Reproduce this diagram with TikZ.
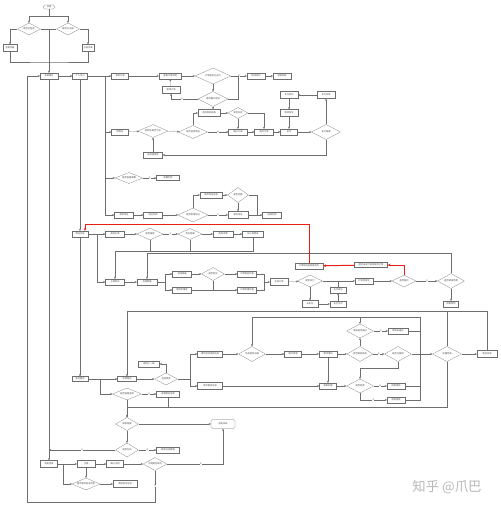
\documentclass[tikz,border=0pt]{standalone}
\usepackage{fontspec}
\newfontfamily\cjk{Noto Sans CJK SC}
\usetikzlibrary{arrows.meta, shapes.geometric, positioning, calc}
\definecolor{lnclr}{RGB}{110,110,110}
\definecolor{redline}{RGB}{235,30,20}
\tikzset{
  bx/.style 2 args={draw=lnclr, line width=0.3pt, inner sep=0pt, minimum width=#1*0.5mm, minimum height=#2*0.5mm, font=\cjk\fontsize{3.2}{3.2}\selectfont, text=black!70},
  dia/.style 2 args={diamond, aspect=2, draw=lnclr, line width=0.3pt, inner sep=0pt, minimum width=#1*0.5mm, minimum height=#2*0.5mm, font=\cjk\fontsize{3.2}{3.2}\selectfont, text=black!70},
  term/.style 2 args={bx={#1}{#2}, rounded corners=0.9mm},
  ln/.style={draw=lnclr, line width=0.3pt},
  arr/.style={ln, -{Stealth[length=1.1mm, width=0.9mm]}},
  redarr/.style={draw=redline, line width=1.4pt, -{Stealth[length=1.5mm, width=1.3mm]}},
  lab/.style={font=\cjk\fontsize{2.5}{2.5}\selectfont, text=black!60, fill=white, inner sep=0.2pt}
}
\begin{document}
\begin{tikzpicture}[x=0.05cm, y=-0.05cm]
        \fill[white] (0,0) rectangle (500,506);
        \useasboundingbox (0,0) rectangle (500,506);

        % top
        \node[term={12}{4}] (start) at (49,7) {开始};
        \node[dia={23}{12}] (dL) at (29,29) {是否已登录};
        \node[dia={23}{12}] (dR) at (68,29) {是否已注册};
        \node[bx={14}{7}] (bL) at (10,48) {登录页面};
        \node[bx={12}{7}] (bR) at (88,48) {注册页面};
        \node[bx={18}{6}] (home) at (49,76) {系统首页};
        \node[bx={15}{6}] (mine) at (80,76) {个人中心};
        \node[bx={17}{6}] (order) at (120,76) {我的订单};
        \node[bx={22}{6}] (odetail) at (170,76) {查看订单详情};
        \node[bx={18}{7}] (omodify) at (171,90) {修改订单};
        \node[dia={36}{16}] (dpaid) at (213,76) {订单是否已支付};
        \node[dia={30}{15}] (dcancel) at (213,99) {是否确认取消};
        \node[bx={18}{6}] (cancelok) at (256,76) {取消成功};
        \node[bx={18}{6}] (refund) at (282,76) {退款到账};

        \node[bx={17}{6}] (cart) at (120,132) {购物车};
        \node[dia={30}{13}] (dempty) at (153,131) {购物车是否为空};
        \node[bx={19}{6}] (addgoods) at (153,155) {去添加商品};
        \node[dia={29}{13}] (dselect) at (193,132) {是否选择商品};
        \node[bx={22}{7}] (spec) at (209,113) {选择商品规格};
        \node[dia={20}{11}] (dstock) at (238,113) {库存充足};
        \node[bx={19}{6}] (confirm) at (238,132) {确认订单};
        \node[bx={19}{6}] (submit) at (264,132) {提交订单};
        \node[bx={17}{6}] (pay) at (289,132) {支付};
        \node[dia={29}{15}] (dpayres) at (326,132) {支付结果};
        \node[bx={18}{7}] (paidok) at (289,95) {支付成功};
        \node[bx={18}{7}] (waitship) at (289,113) {等待发货};
        \node[bx={18}{7}] (payfail) at (326,95) {支付失败};

        \node[dia={28}{11}] (dfav) at (129,178) {是否查看收藏};
        \node[bx={23}{5}] (favlist) at (168,178) {收藏列表};
        \node[bx={19}{6}] (addr) at (124,215) {我的地址};
        \node[bx={19}{6}] (addrlist) at (153,215) {地址列表};
        \node[dia={30}{14}] (dnewaddr) at (193,215) {是否新增地址};
        \node[bx={22}{6}] (fillinfo) at (211,195) {填写地址信息};
        \node[dia={21}{15}] (dfull) at (238,195) {是否完整};
        \node[bx={20}{7}] (saveaddr) at (238,215) {保存地址};
        \node[bx={19}{6}] (backlist) at (272,215) {返回列表};

        % middle
        \node[bx={16}{6}] (browse) at (80,234) {商品浏览};
        \node[bx={19}{6}] (category) at (115,234) {商品分类};
        \node[dia={26}{12}] (dsearch) at (150,234) {是否搜索};
        \node[dia={24}{11}] (dresult) at (190,234) {有无结果};
        \node[bx={20}{6}] (gdetail) at (223,234) {商品详情};
        \node[bx={21}{6}] (tocart) at (253,234) {加入购物车};
        \node[bx={19}{6}] (buynow) at (115,282) {立即购买};
        \node[bx={20}{6}] (qty) at (147,282) {选择数量};
        \node[bx={19}{6}] (selspec) at (182,274) {选择规格};
        \node[bx={19}{6}] (coupon) at (182,290) {使用优惠券};
        \node[dia={23}{13}] (dhave) at (213,274) {是否有货};
        \node[bx={19}{6}] (price) at (247,274) {计算商品价格};
        \node[bx={19}{6}] (discount) at (247,290) {计算优惠价格};
        \node[bx={18}{7}] (genorder) at (279,282) {生成订单};
        \node[dia={25}{12}] (dtopay) at (310,281) {是否支付};
        \node[bx={16}{7}] (gopay) at (310,304) {去支付};
        \node[bx={16}{6}] (payok) at (338,290) {支付成功};
        \node[bx={16}{6}] (paymode) at (338,304) {支付方式};
        \node[bx={18}{6}] (toship) at (364,281) {订单待发货};
        \node[bx={28}{6}] (cancelback) at (309,266) {订单取消返回商品页};
        \node[bx={33}{5}] (autocancel) at (371,265) {超时未支付自动取消订单};
        \node[dia={24}{12}] (dtimeout) at (404,281) {是否超时};
        \node[dia={27}{15}] (dgoon) at (451,281) {是否继续购物};
        \node[bx={15}{6}] (finish) at (451,304) {结束购物};

        % bottom
        \node[bx={16}{5}] (service) at (80,379) {售后服务};
        \node[bx={19}{5}] (apply) at (127,379) {申请售后};
        \node[bx={21}{6}] (goback) at (149,364) {返回上一级};
        \node[dia={23}{12}] (dtype) at (166,379) {选择类型};
        \node[bx={25}{6}] (fillrefund) at (210,354) {填写退货退款信息};
        \node[bx={25}{7}] (fillexch) at (210,386) {填写换货信息};
        \node[dia={27}{15}] (dright) at (252,354) {信息是否正确};
        \node[bx={17}{6}] (submitapp) at (293,354) {提交申请};
        \node[bx={18}{6}] (review) at (328,354) {等待审核};
        \node[bx={17}{6}] (merchant) at (328,386) {商家处理};
        \node[dia={27}{14}] (dpass) at (360,331) {审核是否通过};
        \node[bx={20}{6}] (reject) at (398,331) {审核未通过};
        \node[dia={26}{15}] (dsendback) at (360,354) {是否寄回商品};
        \node[dia={27}{15}] (dsent) at (398,354) {是否已寄回};
        \node[dia={29}{15}] (ddone) at (447,354) {处理完成};
        \node[bx={20}{7}] (aftdone) at (487,354) {售后完成};
        \node[dia={27}{14}] (dagree) at (360,386) {是否同意};
        \node[bx={18}{6}] (agree) at (396,386) {同意退款};
        \node[bx={18}{6}] (refuse) at (396,400) {拒绝退款};
        \node[dia={29}{12}] (dprogress) at (127,394) {是否查看进度};
        \node[bx={23}{6}] (progress) at (168,394) {查看售后进度};
        \node[dia={23}{13}] (dservice) at (127,424) {联系客服};
        \node[term={24}{9}] (quit) at (223,424) {退出系统};
        \node[dia={23}{14}] (dyn) at (127,450) {是否在线};
        \node[bx={23}{6}] (online) at (168,450) {联系在线客服};
        \node[bx={17}{7}] (logout) at (49,464) {退出登录};
        \node[bx={18}{7}] (cancelacc) at (86,464) {注销};
        \node[bx={17}{7}] (confirmc) at (115,464) {确认注销};
        \node[dia={24}{13}] (dcancelok) at (155,464) {注销是否成功};
        \node[dia={28}{12}] (dsave) at (86,484) {是否保存账号信息};
        \node[bx={24}{7}] (clear) at (125,484) {清除账号信息};

        \node[text=black!28, font=\cjk\fontsize{19}{19}\selectfont] (wm) at (447,487) {知乎 @爪巴};

        % joints
        \coordinate (j0) at (49,16);
        \coordinate (j1) at (49,29);
        \coordinate (j2) at (49,62);
        \coordinate (jv) at (105,76);
        \coordinate (jc) at (238,76);
        \coordinate (jm) at (257,215);
        \coordinate (jb) at (97,234);
        \coordinate (jq) at (165,282);
        \coordinate (jp) at (264,282);
        \coordinate (jo) at (338,281);
        \coordinate (ja) at (100,379);
        \coordinate (jt) at (190,379);
        \coordinate (jr) at (420,317);
        \coordinate (jl) at (63,464);

        \draw[ln] (start) -- (j0);
        \draw[arr] (j0) -| (dL.north);
        \draw[arr] (j0) -| (dR.north);
        \draw[arr] (dL.west) -| (bL.north);
        \draw[arr] (dR.east) -| (bR.north);
        \draw[ln] (dL.east) -- (dR.west);
        \draw[ln] (bL.south) |- (j2) -| (bR.south);
        \draw[arr] (j1) -- (home.north);
        \draw[arr] (home) -- (mine);
        \draw[arr] (mine) -- (order);
        \draw[arr] (jv) |- (cart);
        \draw[arr] (jv) |- (dfav);
        \draw[arr] (jv) |- (addr);
        \draw[arr] (mine) -- (browse);
        \draw[arr] (home) -- (logout);
        \draw[arr] (order) -- (odetail);
        \draw[arr] (odetail) -- (dpaid);
        \draw[arr] (dpaid) -- node[lab]{是} (cancelok);
        \draw[arr] (cancelok) -- (refund);
        \draw[arr] (dpaid) -- (dcancel);
        \draw[arr] (dcancel.west) -| node[lab, pos=0.3]{否} (omodify.south);
        \draw[arr] (omodify) -- (odetail);
        \draw[ln] (dcancel.east) -| (jc);
        \draw[arr] (dcancel.south) -- (dcancel.south |- spec.north);

        \draw[arr] (cart) -- (dempty);
        \draw[arr] (dempty) -- node[lab]{否} (dselect);
        \draw[arr] (dselect) -- node[lab]{是} (confirm);
        \draw[arr] (dselect.north) |- (spec.west);
        \draw[arr] (spec) -- (dstock);
        \draw[arr] (dstock.east) -| (submit.north);
        \draw[arr] (dstock) -- (confirm);
        \draw[arr] (confirm) -- (submit);
        \draw[arr] (submit) -- (pay);
        \draw[arr] (pay) -- (dpayres);
        \draw[arr] (dpayres) -- (payfail);
        \draw[arr] (payfail) -- (paidok);
        \draw[arr] (paidok) -- (waitship);
        \draw[arr] (waitship) -- (pay);
        \draw[arr] (dpayres.south) |- (addgoods.east);
        \draw[arr] (addgoods) -- (dempty);

        \draw[arr] (dfav) -- node[lab]{是} (favlist);
        \draw[arr] (addr) -- (addrlist);
        \draw[arr] (addrlist) -- (dnewaddr);
        \draw[arr] (dnewaddr) -- node[lab]{否} (saveaddr);
        \draw[arr] (dnewaddr.north) |- (fillinfo.west);
        \draw[arr] (fillinfo) -- (dfull);
        \draw[arr] (dfull) -- (saveaddr);
        \draw[ln] (dfull.east) -| (jm);
        \draw[arr] (saveaddr) -- (backlist);

        \draw[arr] (browse) -- (category);
        \draw[arr] (category) -- (dsearch);
        \draw[arr] (dsearch) -- node[lab]{是} (dresult);
        \draw[arr] (dresult) -- (gdetail);
        \draw[arr] (gdetail) -- (tocart);
        \draw[arr] (tocart.south) -- ++(0,14) -| (buynow.north);
        \draw[ln] (dsearch.south) -- ++(0,11);
        \draw[ln] (dresult.south) -- ++(0,11.5);
        \draw[arr] (jb) |- (buynow.west);
        \draw[arr] (browse) -- (service);
        \draw[arr] (buynow) -- (qty);
        \draw[ln] (qty) -- (jq);
        \draw[arr] (jq) |- (selspec.west);
        \draw[arr] (jq) |- (coupon.west);
        \draw[arr] (selspec) -- (dhave);
        \draw[arr] (dhave) -- (price);
        \draw[ln] (dhave.south) -- (dhave.south |- coupon);
        \draw[arr] (coupon) -- (discount);
        \draw[ln] (price.east) -| (jp);
        \draw[ln] (discount.east) -| (jp);
        \draw[arr] (jp) -- (genorder);
        \draw[arr] (genorder) -- (dtopay);
        \draw[arr] (dtopay) -- (gopay);
        \draw[arr] (gopay) -- (paymode);
        \draw[arr] (paymode) -- (payok);
        \draw[ln] (payok.north) -- (jo);
        \draw[arr] (dtopay) -- (toship);
        \draw[arr] (toship) -- (dtimeout);
        \draw[arr] (dtimeout) -- node[lab]{否} (dgoon);
        \draw[arr] (dgoon) -- (finish);
        \draw[arr] (dgoon.north) -- ++(0,-20) -| (qty.north);
        \draw[redarr] (dtimeout.north) |- (autocancel.east);
        \draw[redarr] (autocancel) -- (cancelback);
        \draw[redarr] (cancelback.north) -- ++(0,-38) -| ($(browse.north)+(5,0)$);

        \draw[arr] (service) -- (apply);
        \draw[arr] (ja) |- (dprogress.west);
        \draw[arr] (apply) -- (dtype);
        \draw[arr] (dtype.north) |- (goback.east);
        \draw[ln] (dtype) -- (jt);
        \draw[arr] (jt) |- (fillrefund.west);
        \draw[arr] (jt) |- (fillexch.west);
        \draw[arr] (fillrefund) -- (dright);
        \draw[arr] (dright) -- (submitapp);
        \draw[arr] (submitapp) -- (review);
        \draw[arr] (review) -- (dsendback);
        \draw[arr] (review) -- (merchant);
        \draw[arr] (fillexch) -- (merchant);
        \draw[arr] (merchant) -- (dagree);
        \draw[arr] (dagree) -- node[lab]{是} (agree);
        \draw[arr] (dagree.south) |- node[lab, pos=0.75]{否} (refuse.west);
        \draw[ln] (agree.east) -| (jr);
        \draw[ln] (refuse.east) -| (jr);
        \draw[ln] (reject.east) -| (jr);
        \draw[arr] (jr) -| (dpass.north);
        \draw[arr] (jr) -| (dright.north);
        \draw[arr] (dpass) -- node[lab]{否} (reject);
        \draw[arr] (dsendback) -- (dpass);
        \draw[arr] (dsendback) -- node[lab]{是} (dsent);
        \draw[arr] (dsent) -- (ddone);
        \draw[arr] (dsent.south) -- ++(0,6) -| (dagree.north);
        \draw[arr] (ddone) -- (aftdone);
        \draw[arr] (aftdone.north) -- ++(0,-39.5) -| (apply.north);
        \draw[ln] (ddone.north) -- ++(0,-35.5);
        \draw[arr] (ddone.south) -- ++(0,45.5) -| (dservice.north);
        \draw[ln] (progress.south) -- ++(0,10);
        \draw[arr] (dprogress) -- node[lab]{是} (progress);
        \draw[arr] (dprogress) -- (dservice);
        \draw[arr] (dservice) -- (quit);
        \draw[arr] (dservice) -- (dyn);
        \draw[arr] (dyn) -- node[lab]{是} (online);
        \draw[arr] (dyn.west) -- node[lab]{否} (dyn.west -| logout);
        \draw[arr] (logout) -- (cancelacc);
        \draw[arr] (cancelacc) -- (confirmc);
        \draw[arr] (confirmc) -- (dcancelok);
        \draw[arr] (dcancelok.east) -| node[lab, pos=0.3]{是} (quit.south);
        \draw[arr] (jl) |- (dsave.west);
        \draw[arr] (cancelacc) -- (dsave);
        \draw[arr] (dsave) -- (clear);
        \draw[arr] (dcancelok.south) -- node[lab]{否} ++(0,31.5) -| ($(home.west)+(-13,0)$) -- (home.west);
    \end{tikzpicture}
\end{document}
